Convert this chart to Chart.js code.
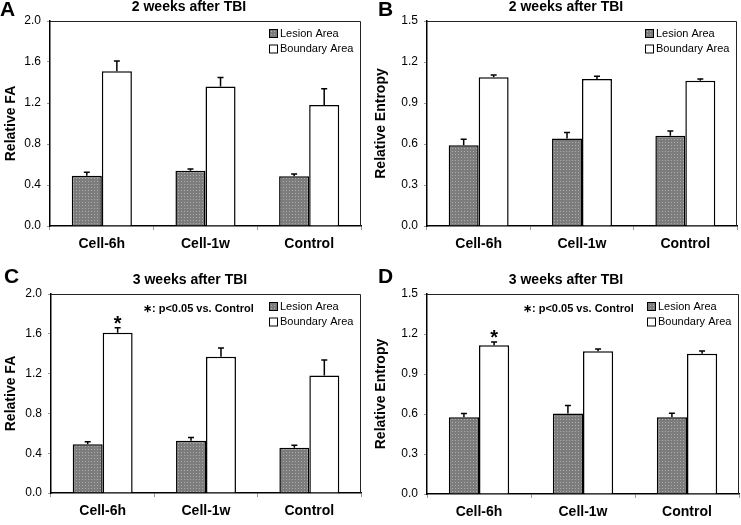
<!DOCTYPE html>
<html>
<head>
<meta charset="utf-8">
<script src="https://cdn.jsdelivr.net/npm/chart.js@4.4.1/dist/chart.umd.min.js"></script>
<style>
body{margin:0;background:#fff;width:741px;height:525px;position:relative;overflow:hidden}
canvas{position:absolute}
</style>
</head>
<body>
<canvas id="chartA" width="370" height="262" style="left:0;top:0"></canvas>
<canvas id="chartB" width="371" height="262" style="left:370px;top:0"></canvas>
<canvas id="chartC" width="370" height="263" style="left:0;top:262px"></canvas>
<canvas id="chartD" width="371" height="263" style="left:370px;top:262px"></canvas>
<script>
const categories = ['Cell-6h', 'Cell-1w', 'Control'];

// FA, 2 weeks
const faWeek2Lesion = [0.49, 0.54, 0.485];
const faWeek2LesionErr = [0.035, 0.017, 0.022];
const faWeek2Boundary = [1.51, 1.36, 1.18];
const faWeek2BoundaryErr = [0.10, 0.09, 0.16];

// Entropy, 2 weeks
const entWeek2Lesion = [0.59, 0.64, 0.66];
const entWeek2LesionErr = [0.045, 0.045, 0.035];
const entWeek2Boundary = [1.088, 1.076, 1.062];
const entWeek2BoundaryErr = [0.017, 0.02, 0.014];

// FA, 3 weeks
const faWeek3Lesion = [0.49, 0.525, 0.455];
const faWeek3LesionErr = [0.024, 0.033, 0.026];
const faWeek3Boundary = [1.61, 1.37, 1.18];
const faWeek3BoundaryErr = [0.05, 0.087, 0.156];

// Entropy, 3 weeks
const entWeek3Lesion = [0.576, 0.603, 0.576];
const entWeek3LesionErr = [0.027, 0.06, 0.029];
const entWeek3Boundary = [1.116, 1.071, 1.051];
const entWeek3BoundaryErr = [0.024, 0.017, 0.022];

const faTicks = [0, 0.4, 0.8, 1.2, 1.6, 2.0];
const entTicks = [0, 0.3, 0.6, 0.9, 1.2, 1.5];
const sigStars = [true, false, false];
const sigNote = '\u2217: p<0.05 vs. Control';

const FONT = '"Liberation Sans", Arial, sans-serif';

// dotted gray fill like the original
function dotPattern() {
    const c = document.createElement('canvas');
    c.width = 3; c.height = 3;
    const g = c.getContext('2d');
    g.fillStyle = '#7c7c7c';
    g.fillRect(0, 0, 3, 3);
    g.fillStyle = '#adadad';
    g.fillRect(1, 1, 1, 1);
    return g.createPattern(c, 'repeat');
}
const lesionFill = dotPattern();

const extras = {
    id: 'extras',
    afterDatasetsDraw(chart, args, o) {
        const ctx = chart.ctx;
        const a = chart.chartArea;
        const y = chart.scales.y;
        ctx.save();

        // error bars (upper half only) + significance stars
        chart.data.datasets.forEach((ds, di) => {
            const meta = chart.getDatasetMeta(di);
            meta.data.forEach((bar, i) => {
                const top = y.getPixelForValue(ds.data[i] + ds.errors[i]);
                ctx.strokeStyle = '#000';
                ctx.lineWidth = 1.5;
                ctx.beginPath();
                ctx.moveTo(bar.x, bar.y);
                ctx.lineTo(bar.x, top);
                ctx.moveTo(bar.x - 3, top);
                ctx.lineTo(bar.x + 3, top);
                ctx.stroke();
                if (ds.stars && ds.stars[i]) {
                    ctx.fillStyle = '#000';
                    ctx.font = 'bold 20px ' + FONT;
                    ctx.textAlign = 'center';
                    ctx.textBaseline = 'alphabetic';
                    ctx.fillText('*', bar.x, top + 2);
                }
            });
        });

        // frame
        ctx.strokeStyle = '#222';
        ctx.lineWidth = 1;
        ctx.beginPath();
        ctx.moveTo(a.left, a.top + 0.5);
        ctx.lineTo(a.right - 0.5, a.top + 0.5);
        ctx.lineTo(a.right - 0.5, a.bottom);
        ctx.stroke();

        // legend
        ctx.font = '11px ' + FONT;
        ctx.textAlign = 'left';
        ctx.textBaseline = 'middle';
        chart.data.datasets.forEach((ds, di) => {
            const ly = a.top + 12 + di * 15.5;
            const lx = a.right - 92;
            ctx.fillStyle = ds.backgroundColor;
            ctx.fillRect(lx, ly - 4, 8, 8);
            ctx.strokeStyle = '#000';
            ctx.lineWidth = 1;
            ctx.strokeRect(lx + 0.5, ly - 3.5, 8, 8);
            ctx.fillStyle = '#000';
            ctx.fillText(ds.label, lx + 11, ly + 0.5);
        });

        // note
        if (o.note) {
            ctx.font = 'bold 11px ' + FONT;
            ctx.fillText(o.note, a.left + o.noteDx, a.top + 15);
        }

        // title
        ctx.font = 'bold 14px ' + FONT;
        ctx.textAlign = 'center';
        ctx.fillText(o.title, a.left + 139, a.top - 14);

        // panel letter
        ctx.font = 'bold 21px ' + FONT;
        ctx.textAlign = 'left';
        ctx.textBaseline = 'alphabetic';
        ctx.fillText(o.letter, o.letterX, o.letterY);
        ctx.restore();
    }
};

function makeChart(id, p) {
    const ctx = document.getElementById(id).getContext('2d');
    return new Chart(ctx, {
        type: 'bar',
        data: {
            labels: categories,
            datasets: [{
                label: 'Lesion Area',
                data: p.lesion,
                errors: p.lesionErr,
                backgroundColor: lesionFill,
                borderColor: '#000',
                borderWidth: 1.5
            }, {
                label: 'Boundary Area',
                data: p.boundary,
                errors: p.boundaryErr,
                stars: p.stars,
                backgroundColor: '#fff',
                borderColor: '#000',
                borderWidth: 1.5
            }]
        },
        options: {
            responsive: false,
            animation: false,
            categoryPercentage: 0.58,
            barPercentage: 1.0,
            layout: { padding: p.padding },
            plugins: {
                legend: { display: false },
                tooltip: { enabled: false },
                extras: {
                    title: p.title, letter: p.letter, letterX: p.letterX, letterY: p.letterY,
                    note: p.note, noteDx: p.noteDx
                }
            },
            scales: {
                x: {
                    grid: { offset: true, drawOnChartArea: false, tickLength: 4, color: '#999' },
                    border: { color: '#000', width: 1.5 },
                    ticks: { color: '#000', padding: 6, font: { family: FONT, size: 14, weight: 'bold' } },
                    afterFit(s) { s.height = p.xHeight; }
                },
                y: {
                    min: 0,
                    max: p.ticks[p.ticks.length - 1],
                    afterBuildTicks(s) { s.ticks = p.ticks.map(v => ({ value: v })); },
                    grid: { drawOnChartArea: false, tickLength: 3, color: '#999' },
                    border: { color: '#000', width: 1.5 },
                    ticks: { color: '#000', padding: 6, font: { family: FONT, size: 12 },
                        callback: v => v.toFixed(1) },
                    title: { display: true, text: p.yTitle, color: '#000', padding: { top: 3 },
                        font: { family: FONT, size: 14, weight: 'bold' } },
                    afterFit(s) { s.width = p.yWidth; }
                }
            }
        },
        plugins: [extras]
    });
}

makeChart('chartA', {
    lesion: faWeek2Lesion, lesionErr: faWeek2LesionErr,
    boundary: faWeek2Boundary, boundaryErr: faWeek2BoundaryErr,
    ticks: faTicks, yTitle: 'Relative FA', title: '2 weeks after TBI',
    letter: 'A', letterX: 0, letterY: 16,
    padding: { top: 21, right: 9, left: 0, bottom: 0 }, yWidth: 50, xHeight: 36
});
makeChart('chartB', {
    lesion: entWeek2Lesion, lesionErr: entWeek2LesionErr,
    boundary: entWeek2Boundary, boundaryErr: entWeek2BoundaryErr,
    ticks: entTicks, yTitle: 'Relative Entropy', title: '2 weeks after TBI',
    letter: 'B', letterX: 8, letterY: 16,
    padding: { top: 21, right: 4, left: 0, bottom: 0 }, yWidth: 57, xHeight: 36
});
makeChart('chartC', {
    lesion: faWeek3Lesion, lesionErr: faWeek3LesionErr,
    boundary: faWeek3Boundary, boundaryErr: faWeek3BoundaryErr, stars: sigStars,
    ticks: faTicks, yTitle: 'Relative FA', title: '3 weeks after TBI',
    letter: 'C', letterX: 4, letterY: 21, note: sigNote, noteDx: 92,
    padding: { top: 32, right: 9, left: 0, bottom: 0 }, yWidth: 51, xHeight: 32
});
makeChart('chartD', {
    lesion: entWeek3Lesion, lesionErr: entWeek3LesionErr,
    boundary: entWeek3Boundary, boundaryErr: entWeek3BoundaryErr, stars: sigStars,
    ticks: entTicks, yTitle: 'Relative Entropy', title: '3 weeks after TBI',
    letter: 'D', letterX: 8, letterY: 21, note: sigNote, noteDx: 96,
    padding: { top: 32, right: 2, left: 0, bottom: 0 }, yWidth: 57, xHeight: 31
});
</script>
</body>
</html>
